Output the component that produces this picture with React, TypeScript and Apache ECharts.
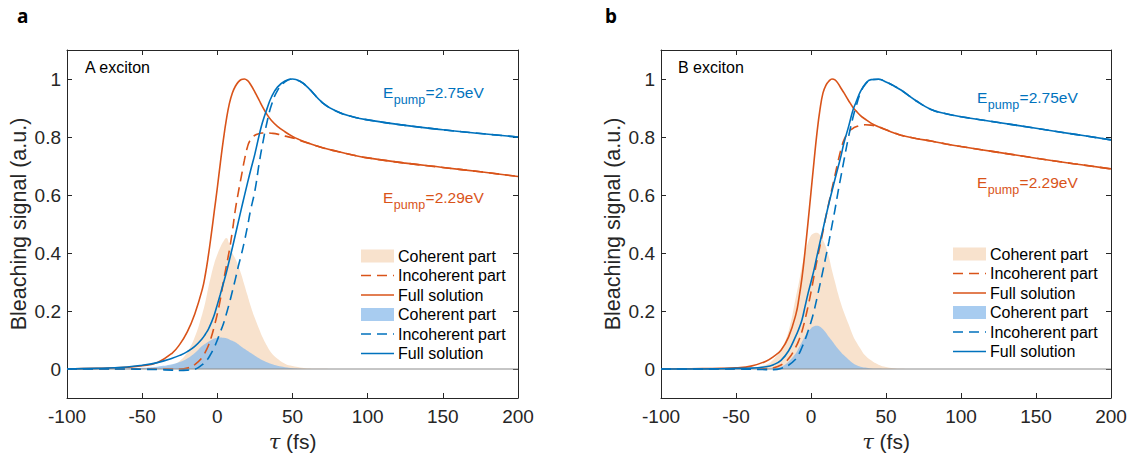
import React, { useEffect, useRef } from "react";
import * as echarts from "echarts";

// ---------- data ----------
const tau = [
  -100, -80, -60, -50, -40, -30, -25, -20, -15, -10, -8,
  -6, -4, -2, 0, 2, 4, 6, 8, 10, 12, 14,
  16, 18, 20, 22, 25, 28, 30, 33, 36, 40, 45,
  50, 55, 60, 70, 80, 90, 100, 125, 150, 175, 200,
];

// Panel a (A exciton)
const aOrangeFull = [
  0, 0.002, 0.006, 0.011, 0.022, 0.055, 0.085, 0.128, 0.19, 0.275, 0.325,
  0.39, 0.465, 0.545, 0.625, 0.71, 0.79, 0.86, 0.915, 0.952, 0.975, 0.99,
  0.998, 1.0, 0.995, 0.982, 0.955, 0.925, 0.905, 0.878, 0.857, 0.837, 0.818,
  0.802, 0.79, 0.78, 0.763, 0.75, 0.738, 0.728, 0.71, 0.695, 0.68, 0.664,
];
const aOrangeIncoh = [
  0, 0, 0, 0, 0, 0, 0, 0.003, 0.015, 0.04, 0.058,
  0.08, 0.11, 0.148, 0.19, 0.24, 0.3, 0.355, 0.41, 0.475, 0.55, 0.61,
  0.665, 0.72, 0.765, 0.79, 0.806, 0.812, 0.814, 0.814, 0.813, 0.81, 0.803,
  0.797, 0.788, 0.779, 0.763, 0.75, 0.738, 0.728, 0.71, 0.695, 0.68, 0.664,
];
const aOrangeCoh = [
  0, 0, 0.001, 0.002, 0.005, 0.014, 0.028, 0.058, 0.11, 0.19, 0.23,
  0.28, 0.325, 0.365, 0.395, 0.42, 0.44, 0.452, 0.43, 0.4, 0.38, 0.355,
  0.325, 0.29, 0.255, 0.22, 0.175, 0.135, 0.11, 0.08, 0.055, 0.035, 0.018,
  0.01, 0.005, 0.002, 0.001, 0, 0, 0, 0, 0, 0, 0,
];
const aBlueFull = [
  0, 0.002, 0.007, 0.013, 0.022, 0.037, 0.047, 0.06, 0.078, 0.105, 0.12,
  0.137, 0.16, 0.187, 0.222, 0.258, 0.295, 0.333, 0.375, 0.418, 0.463, 0.508,
  0.553, 0.597, 0.64, 0.682, 0.742, 0.81, 0.85, 0.897, 0.938, 0.972, 0.993,
  1.0, 0.992, 0.972, 0.918, 0.887, 0.87, 0.859, 0.84, 0.825, 0.812, 0.8,
];
const aBlueIncoh = [
  0, 0, 0, -0.001, -0.002, -0.004, -0.005, -0.004, -0.001, 0.015, 0.025,
  0.037, 0.055, 0.075, 0.1, 0.128, 0.155, 0.19, 0.227, 0.268, 0.31, 0.355,
  0.395, 0.44, 0.49, 0.545, 0.615, 0.715, 0.773, 0.85, 0.91, 0.96, 0.99,
  1.0, 0.992, 0.972, 0.918, 0.887, 0.87, 0.859, 0.84, 0.825, 0.812, 0.8,
];
const aBlueCoh = [
  0, 0, 0.002, 0.004, 0.008, 0.016, 0.024, 0.036, 0.055, 0.08, 0.087,
  0.094, 0.1, 0.105, 0.108, 0.109, 0.108, 0.106, 0.102, 0.097, 0.092, 0.085,
  0.077, 0.07, 0.063, 0.056, 0.046, 0.036, 0.03, 0.023, 0.017, 0.011, 0.006,
  0.003, 0.001, 0, 0, 0, 0, 0, 0, 0, 0, 0,
];

// Panel b (B exciton)
const bOrangeFull = [
  0, 0.001, 0.002, 0.004, 0.01, 0.027, 0.043, 0.065, 0.11, 0.19, 0.245,
  0.315, 0.405, 0.505, 0.61, 0.715, 0.815, 0.895, 0.952, 0.979, 0.993, 1.0,
  0.997, 0.985, 0.968, 0.952, 0.926, 0.902, 0.89, 0.874, 0.862, 0.848, 0.835,
  0.825, 0.815, 0.806, 0.795, 0.786, 0.776, 0.767, 0.747, 0.727, 0.708, 0.69,
];
const bOrangeIncoh = [
  0, 0, 0, 0, 0, 0.001, 0.004, 0.014, 0.035, 0.077, 0.1,
  0.13, 0.17, 0.215, 0.265, 0.32, 0.375, 0.425, 0.475, 0.527, 0.575, 0.622,
  0.668, 0.715, 0.757, 0.79, 0.817, 0.83, 0.835, 0.84, 0.842, 0.841, 0.835,
  0.825, 0.815, 0.806, 0.795, 0.786, 0.776, 0.767, 0.747, 0.727, 0.708, 0.69,
];
const bOrangeCoh = [
  0, 0, 0, 0.001, 0.003, 0.015, 0.033, 0.067, 0.13, 0.25, 0.3,
  0.355, 0.4, 0.435, 0.46, 0.468, 0.47, 0.462, 0.445, 0.42, 0.385, 0.34,
  0.3, 0.26, 0.225, 0.195, 0.155, 0.115, 0.095, 0.07, 0.047, 0.03, 0.015,
  0.007, 0.003, 0.001, 0, 0, 0, 0, 0, 0, 0, 0,
];
const bBlueFull = [
  0, 0, 0.001, 0.002, 0.003, 0.008, 0.015, 0.03, 0.062, 0.115, 0.14,
  0.17, 0.215, 0.26, 0.3, 0.342, 0.39, 0.437, 0.482, 0.528, 0.572, 0.614,
  0.655, 0.695, 0.735, 0.78, 0.835, 0.893, 0.92, 0.957, 0.982, 0.998, 0.999,
  0.99, 0.977, 0.962, 0.925, 0.895, 0.88, 0.87, 0.85, 0.83, 0.81, 0.79,
];
const bBlueIncoh = [
  0, 0, 0, 0, -0.001, -0.002, -0.002, 0.002, 0.013, 0.035, 0.052,
  0.075, 0.1, 0.13, 0.162, 0.2, 0.245, 0.292, 0.34, 0.39, 0.44, 0.495,
  0.55, 0.61, 0.665, 0.72, 0.8, 0.868, 0.905, 0.952, 0.98, 0.997, 0.999,
  0.99, 0.977, 0.962, 0.925, 0.895, 0.88, 0.87, 0.85, 0.83, 0.81, 0.79,
];
const bBlueCoh = [
  0, 0, 0, 0, 0, 0.001, 0.003, 0.008, 0.025, 0.055, 0.074,
  0.094, 0.113, 0.128, 0.14, 0.147, 0.149, 0.146, 0.137, 0.125, 0.11, 0.097,
  0.083, 0.07, 0.058, 0.047, 0.033, 0.02, 0.014, 0.008, 0.005, 0.002, 0.001,
  0, 0, 0, 0, 0, 0, 0, 0, 0, 0, 0,
];

const baseline = [[-100, 0], [200, 0]];
const xRange = [-100, 200];
const xStep = 50;
const yRange = [-0.1, 1.1];
const yTicks = [0, 0.2, 0.4, 0.6, 0.8, 1];

const panelLetters = ["a", "b"];
const excitonLabels = ["A exciton", "B exciton"];
const pumpMain = "E";
const pumpSub = "pump";
const pumpBlue = "=2.75eV";
const pumpOrange = "=2.29eV";
const legendLabels = [
  "Coherent part", "Incoherent part", "Full solution",
  "Coherent part", "Incoherent part", "Full solution",
];
const yTitle = "Bleaching signal (a.u.)";

// ---------- style ----------
const FONT = "'Liberation Sans', Arial, Helvetica, sans-serif";
const ORANGE = "#D95319";
const BLUE = "#0072BD";
const ORANGE_FILL = "#F8E2CD";
const BLUE_FILL = "rgba(139,187,235,0.75)";
const AX = "#262626";
const DASH = [10, 6];

const TOP = 50;
const H = 348;
const panels = [
  { left: 67, width: 451, letterX: 17, excX: 85, annX: 383, annY: [92, 197], legX: 361, legTextX: 398, legY0: 256 },
  { left: 661, width: 450, letterX: 605, excX: 678, annX: 977, annY: [97, 182], legX: 953, legTextX: 990, legY0: 254 },
];

const pair = (vals: number[]) => tau.map((t, i) => [t, vals[i]]);

function measure(text: string, size: number) {
  const ctx = document.createElement("canvas").getContext("2d");
  if (!ctx) return text.length * size * 0.55;
  ctx.font = `${size}px 'Liberation Sans', Arial, sans-serif`;
  return ctx.measureText(text).width;
}

function buildOption() {
  const data = [
    { oc: aOrangeCoh, oi: aOrangeIncoh, of: aOrangeFull, bc: aBlueCoh, bi: aBlueIncoh, bf: aBlueFull },
    { oc: bOrangeCoh, oi: bOrangeIncoh, of: bOrangeFull, bc: bBlueCoh, bi: bBlueIncoh, bf: bBlueFull },
  ];

  const grid: any[] = [];
  const xAxis: any[] = [];
  const yAxis: any[] = [];
  const series: any[] = [];
  const graphic: any[] = [];

  const MAIN = 15.5;
  const SUB = 12.5;
  const wE = measure(pumpMain, MAIN);
  const wSub = measure(pumpSub, SUB);

  panels.forEach((p, k) => {
    grid.push({ left: p.left, top: TOP, width: p.width, height: H, containLabel: false });
    const axLine = { show: true, onZero: false, lineStyle: { color: AX, width: 1 } };
    const xBase = {
      type: "value", gridIndex: k, min: xRange[0], max: xRange[1], interval: xStep,
      axisLine: axLine, splitLine: { show: false },
      axisTick: { show: true, inside: true, length: 5, lineStyle: { color: AX } },
    };
    xAxis.push({
      ...xBase, position: "bottom",
      axisLabel: { color: AX, fontSize: 19, fontFamily: FONT, margin: 9 },
      name: "{i|τ} (fs)", nameLocation: "middle", nameGap: 33,
      nameTextStyle: {
        color: AX, fontSize: 21, fontFamily: FONT,
        rich: { i: { fontStyle: "italic", fontSize: 21, fontFamily: "'DejaVu Serif', serif", color: AX } },
      },
    });
    xAxis.push({ ...xBase, position: "top", axisLabel: { show: false } });
    const yBase = {
      type: "value", gridIndex: k, min: yRange[0], max: yRange[1],
      axisLine: axLine, splitLine: { show: false },
      axisTick: { show: true, inside: true, length: 5, customValues: yTicks, lineStyle: { color: AX } },
    };
    yAxis.push({
      ...yBase, position: "left",
      axisLabel: {
        customValues: yTicks, color: AX, fontSize: 19, fontFamily: FONT, margin: 6,
        formatter: (v: number) => String(+(+v).toFixed(1)),
      },
      name: yTitle, nameLocation: "middle", nameGap: 37,
      nameTextStyle: { color: AX, fontSize: 21.5, fontFamily: FONT },
    });
    yAxis.push({ ...yBase, position: "right", axisLabel: { show: false } });

    const xi = 2 * k;
    const yi = 2 * k;
    const d = data[k];
    const common = { type: "line", xAxisIndex: xi, yAxisIndex: yi, showSymbol: false, symbol: "none", smooth: 0.45, silent: true, animation: false };
    series.push({ ...common, name: `oc${k}`, data: pair(d.oc), lineStyle: { width: 0 }, areaStyle: { color: ORANGE_FILL, opacity: 1, origin: 0 } });
    series.push({ ...common, name: `oi${k}`, data: pair(d.oi), lineStyle: { color: ORANGE, width: 1.6, type: DASH } });
    series.push({ ...common, name: `of${k}`, data: pair(d.of), lineStyle: { color: ORANGE, width: 1.6 } });
    series.push({ ...common, name: `bc${k}`, data: pair(d.bc), lineStyle: { width: 0 }, areaStyle: { color: BLUE_FILL, opacity: 1, origin: 0 } });
    series.push({ ...common, name: `base${k}`, data: baseline, smooth: false, lineStyle: { color: "#8c8c8c", width: 1 } });
    series.push({ ...common, name: `bi${k}`, data: pair(d.bi), lineStyle: { color: BLUE, width: 1.6, type: DASH } });
    series.push({ ...common, name: `bf${k}`, data: pair(d.bf), lineStyle: { color: BLUE, width: 1.6 } });

    // panel letter
    graphic.push({
      type: "text", x: p.letterX, y: 16,
      style: { text: panelLetters[k], fill: "#000", fontSize: 19, fontWeight: "bold", fontFamily: "'Noto Sans', sans-serif", align: "left", verticalAlign: "middle" },
    });
    // exciton label
    graphic.push({
      type: "text", x: p.excX, y: 67,
      style: { text: excitonLabels[k], fill: "#000", fontSize: 16, fontFamily: FONT, align: "left", verticalAlign: "middle" },
    });
    // pump annotations (E with subscript "pump")
    const ann = (txt: string, color: string, yc: number) => {
      const base = { fill: color, fontFamily: FONT, align: "left", verticalAlign: "middle" };
      graphic.push({ type: "text", x: p.annX, y: yc, style: { ...base, text: pumpMain, fontSize: MAIN } });
      graphic.push({ type: "text", x: p.annX + wE + 0.5, y: yc + 8, style: { ...base, text: pumpSub, fontSize: SUB } });
      graphic.push({ type: "text", x: p.annX + wE + wSub + 1, y: yc, style: { ...base, text: txt, fontSize: MAIN } });
    };
    ann(pumpBlue, BLUE, p.annY[0]);
    ann(pumpOrange, ORANGE, p.annY[1]);
    // legend
    legendLabels.forEach((lab, i) => {
      const y = p.legY0 + i * 19.5;
      const color = i < 3 ? ORANGE : BLUE;
      const fill = i < 3 ? ORANGE_FILL : BLUE_FILL;
      if (i % 3 === 0) {
        graphic.push({ type: "rect", shape: { x: p.legX, y: y - 6.5, width: 33, height: 13 }, style: { fill } });
      } else {
        graphic.push({
          type: "line", shape: { x1: p.legX, y1: y, x2: p.legX + 33, y2: y },
          style: { stroke: color, lineWidth: 1.6, lineDash: i % 3 === 1 ? DASH : null },
        });
      }
      graphic.push({
        type: "text", x: p.legTextX, y,
        style: { text: lab, fill: "#000", fontSize: 16, fontFamily: FONT, align: "left", verticalAlign: "middle" },
      });
    });
  });

  return { animation: false, backgroundColor: "#fff", grid, xAxis, yAxis, series, graphic };
}

export default function App() {
  const ref = useRef<HTMLDivElement>(null);
  useEffect(() => {
    const chart = echarts.init(ref.current!, undefined, { renderer: "svg" });
    chart.setOption(buildOption() as any);
    return () => chart.dispose();
  }, []);
  return (
    <div
      ref={ref}
      style={{ position: "absolute", left: 0, top: 0, width: 1130, height: 460, background: "#fff" }}
    />
  );
}
